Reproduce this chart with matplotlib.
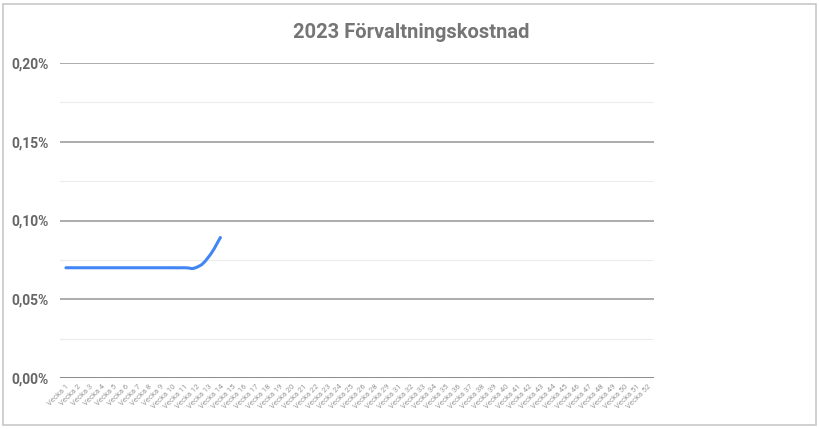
import matplotlib.pyplot as plt
import numpy as np
from matplotlib.path import Path
from matplotlib.patches import PathPatch, Rectangle

plt.rcParams['font.family'] = ['Roboto', 'DejaVu Sans']

# weeks present in the sheet (27 and 30 are missing)
weeks = list(range(1, 27)) + [28, 29] + list(range(31, 53))
week_labels = [f'Vecka {w}' for w in weeks]
# Förvaltningskostnad in percent, only first 14 weeks reported
cost = [0.070, 0.070, 0.070, 0.070, 0.070, 0.070, 0.070,
        0.070, 0.070, 0.070, 0.070, 0.0703, 0.0768, 0.0892]
y_ticks = [0.00, 0.05, 0.10, 0.15, 0.20]
y_tick_labels = ['0,00%', '0,05%', '0,10%', '0,15%', '0,20%']


def smooth_path(xs, ys, t=0.5):
    # catmull-rom style bezier, similar to sheets "smooth" line
    verts = [(xs[0], ys[0])]
    codes = [Path.MOVETO]
    n = len(xs)
    for i in range(n - 1):
        x0, y0 = xs[max(i - 1, 0)], ys[max(i - 1, 0)]
        x1, y1 = xs[i], ys[i]
        x2, y2 = xs[i + 1], ys[i + 1]
        x3, y3 = xs[min(i + 2, n - 1)], ys[min(i + 2, n - 1)]
        c1 = (x1 + (x2 - x0) * t / 3, y1 + (y2 - y0) * t / 3)
        c2 = (x2 - (x3 - x1) * t / 3, y2 - (y3 - y1) * t / 3)
        verts += [c1, c2, (x2, y2)]
        codes += [Path.CURVE4] * 3
    return Path(verts, codes)


fig = plt.figure(figsize=(8.2, 4.29), dpi=100)
fig.patches.append(Rectangle((3 / 820, 4 / 429), 813 / 820, 421 / 429,
                             transform=fig.transFigure, fill=False,
                             edgecolor='#c8c8c8', linewidth=1.2))

ax = fig.add_axes([60 / 820, 1 - 378 / 429, 594 / 820, 315 / 429])
x = np.arange(len(weeks))
ax.set_xlim(-0.5, len(weeks) - 0.5)
ax.set_ylim(0, 0.20)

ax.add_patch(PathPatch(smooth_path(x[:len(cost)], cost, t=0.75),
                       fill=False, edgecolor='#4285f4', linewidth=2.2,
                       capstyle='round', joinstyle='round', zorder=3))

for v in [0.025, 0.075, 0.125, 0.175]:
    ax.axhline(v, color='#ececec', linewidth=0.8, zorder=1)
for v in y_ticks[1:]:
    ax.axhline(v, color='#9e9e9e', linewidth=1.2, zorder=2)
ax.axhline(0, color='#8a8a8a', linewidth=1.4, zorder=2)

ax.set_yticks(y_ticks)
ax.set_yticklabels(y_tick_labels, fontsize=10, color='#666666',
                   fontweight='bold')
ax.set_xticks(x)
ax.set_xticklabels(week_labels, rotation=45, ha='right', va='top',
                   rotation_mode='anchor', fontsize=5.5, color='#9a9a9a')
ax.tick_params(length=0, pad=8, axis='y')
ax.tick_params(length=0, pad=4, axis='x')
for s in ax.spines.values():
    s.set_visible(False)

fig.text(411 / 820, 1 - 33 / 429, '2023 Förvaltningskostnad', ha='center',
         va='center', fontsize=14.5, fontweight='bold', color='#757575')

fig.savefig('out.png', dpi=100)
